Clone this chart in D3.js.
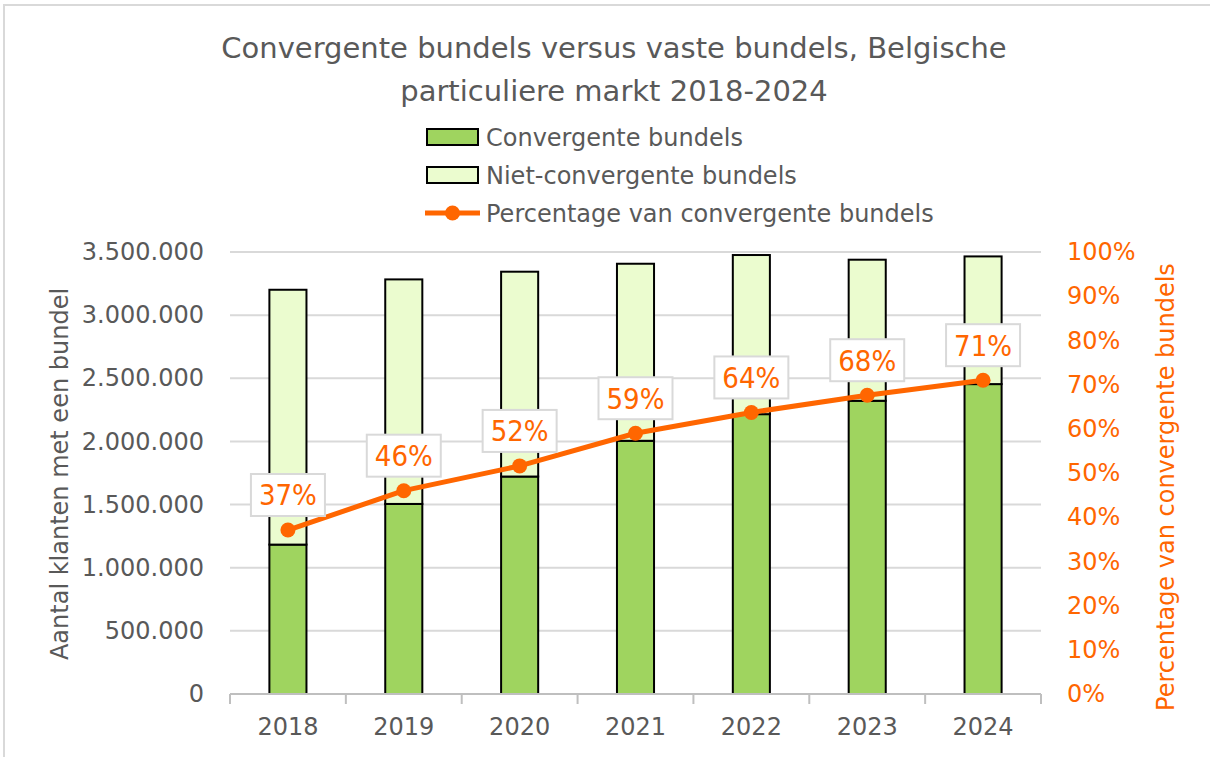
<!DOCTYPE html>
<html>
<head>
<meta charset="utf-8">
<script src="https://cdn.jsdelivr.net/npm/d3@7"></script>
<style>
  body { margin: 0; background: #fff; }
  svg { display: block; font-family: "DejaVu Sans", Verdana, sans-serif; }
</style>
</head>
<body>
<svg></svg>
<script>
const width = 1210;
const height = 757;

// data
const years = ["2018", "2019", "2020", "2021", "2022", "2023", "2024"];
const convergent = [1183000, 1505000, 1722000, 2005000, 2216000, 2322000, 2454000];
const nonConvergent = [2018000, 1778000, 1622000, 1402000, 1260000, 1117000, 1011000];
const percentConvergent = [0.371, 0.460, 0.516, 0.590, 0.637, 0.676, 0.710];
const leftTicks = [0, 500000, 1000000, 1500000, 2000000, 2500000, 3000000, 3500000];
const rightTicks = [0, 0.1, 0.2, 0.3, 0.4, 0.5, 0.6, 0.7, 0.8, 0.9, 1];
const seriesNames = ["Convergente bundels", "Niet-convergente bundels", "Percentage van convergente bundels"];

const textGray = "#595959";
const green = "#9fd45f";
const lightGreen = "#ebfccf";
const orange = "#ff6600";
const gridGray = "#d9d9d9";

const plot = {left: 230, right: 1041, top: 252, bottom: 694};

const svg = d3.select("svg").attr("width", width).attr("height", height);

// chart frame (clipped at right and bottom)
svg.append("rect")
    .attr("x", 4).attr("y", 5)
    .attr("width", 1400).attr("height", 1000)
    .attr("fill", "none")
    .attr("stroke", gridGray)
    .attr("stroke-width", 2);

const x = d3.scaleBand()
    .domain(years)
    .range([plot.left, plot.right])
    .paddingInner(0.68)
    .paddingOuter(0.34);

const y = d3.scaleLinear().domain([0, 3500000]).range([plot.bottom, plot.top]);
const y2 = d3.scaleLinear().domain([0, 1]).range([plot.bottom, plot.top]);

const nl = d3.formatLocale({decimal: ",", thousands: ".", grouping: [3], currency: ["€", ""]});
const fmtNum = nl.format(",.0f");
const fmtPct = d3.format(".0%");

// title
const title = svg.append("text")
    .attr("text-anchor", "middle")
    .attr("fill", textGray)
    .style("font-size", "29px");
title.append("tspan").attr("x", 614).attr("y", 58).text("Convergente bundels versus vaste bundels, Belgische");
title.append("tspan").attr("x", 614).attr("y", 101).text("particuliere markt 2018-2024");

// gridlines
svg.append("g")
    .selectAll("line")
    .data(leftTicks.slice(1))
    .enter().append("line")
    .attr("x1", plot.left).attr("x2", plot.right)
    .attr("y1", d => y(d)).attr("y2", d => y(d))
    .attr("stroke", gridGray)
    .attr("stroke-width", 2);

// left axis
const leftAxis = svg.append("g")
    .attr("transform", `translate(${plot.left - 26},0)`)
    .call(d3.axisLeft(y).tickValues(leftTicks).tickFormat(fmtNum).tickSize(0).tickPadding(0));
leftAxis.select(".domain").remove();
leftAxis.selectAll("text")
    .attr("fill", textGray)
    .style("font-size", "24px")
    .style("font-family", "DejaVu Sans");

// right axis
const rightAxis = svg.append("g")
    .attr("transform", `translate(${plot.right + 26},0)`)
    .call(d3.axisRight(y2).tickValues(rightTicks).tickFormat(fmtPct).tickSize(0).tickPadding(0));
rightAxis.select(".domain").remove();
rightAxis.selectAll("text")
    .attr("fill", orange)
    .style("font-size", "24px")
    .style("font-family", "DejaVu Sans");

// stacked bars
const stacked = years.map((yr, i) => ({year: yr, conv: convergent[i], non: nonConvergent[i]}));
const series = d3.stack().keys(["conv", "non"])(stacked);
const fills = [green, lightGreen];

svg.append("g")
    .selectAll("g")
    .data(series)
    .enter().append("g")
    .attr("fill", (d, i) => fills[i])
    .selectAll("rect")
    .data(d => d)
    .enter().append("rect")
    .attr("x", d => x(d.data.year))
    .attr("y", d => y(d[1]))
    .attr("width", x.bandwidth())
    .attr("height", d => y(d[0]) - y(d[1]))
    .attr("stroke", "#000")
    .attr("stroke-width", 2);

// x axis
const xAxis = svg.append("g")
    .attr("transform", `translate(0,${plot.bottom})`)
    .call(d3.axisBottom(x).tickSize(0).tickPadding(24));
xAxis.select(".domain").remove();
xAxis.selectAll("text")
    .attr("fill", textGray)
    .style("font-size", "24px")
    .style("font-family", "DejaVu Sans");

const step = x.step();
const boundaries = d3.range(years.length + 1).map(i => plot.left + i * step);
svg.append("line")
    .attr("x1", plot.left).attr("x2", plot.right)
    .attr("y1", plot.bottom).attr("y2", plot.bottom)
    .attr("stroke", "#bfbfbf").attr("stroke-width", 2);
svg.append("g")
    .selectAll("line")
    .data(boundaries)
    .enter().append("line")
    .attr("x1", d => d).attr("x2", d => d)
    .attr("y1", plot.bottom).attr("y2", plot.bottom + 10)
    .attr("stroke", "#bfbfbf").attr("stroke-width", 2);

// percentage line
const cx = d => x(d) + x.bandwidth() / 2;
const line = d3.line()
    .x((d, i) => cx(years[i]))
    .y(d => y2(d));

svg.append("path")
    .datum(percentConvergent)
    .attr("d", line)
    .attr("fill", "none")
    .attr("stroke", orange)
    .attr("stroke-width", 5)
    .attr("stroke-linejoin", "round");

svg.append("g")
    .selectAll("circle")
    .data(percentConvergent)
    .enter().append("circle")
    .attr("cx", (d, i) => cx(years[i]))
    .attr("cy", d => y2(d))
    .attr("r", 7.5)
    .attr("fill", orange);

// data labels
const labels = svg.append("g")
    .selectAll("g")
    .data(percentConvergent)
    .enter().append("g")
    .attr("transform", (d, i) => `translate(${cx(years[i])},${y2(d) - 35})`);
labels.append("rect")
    .attr("x", -37).attr("y", -21)
    .attr("width", 74).attr("height", 42)
    .attr("fill", "#fff")
    .attr("stroke", gridGray)
    .attr("stroke-width", 2);
labels.append("text")
    .attr("text-anchor", "middle")
    .attr("dy", "0.36em")
    .attr("fill", orange)
    .style("font-family", "'DejaVu Sans Condensed', 'DejaVu Sans', sans-serif")
    .style("font-size", "29px")
    .text(d => fmtPct(d));

// axis titles
svg.append("text")
    .attr("transform", "translate(59,474) rotate(-90)")
    .attr("text-anchor", "middle")
    .attr("dy", "0.36em")
    .attr("fill", textGray)
    .style("font-size", "24px")
    .text("Aantal klanten met een bundel");

svg.append("text")
    .attr("transform", "translate(1165,487) rotate(-90)")
    .attr("text-anchor", "middle")
    .attr("dy", "0.36em")
    .attr("fill", orange)
    .style("font-size", "24px")
    .text("Percentage van convergente bundels");

// legend
const legend = svg.append("g");
const rowY = [137, 175, 213];
legend.selectAll("rect")
    .data(fills)
    .enter().append("rect")
    .attr("x", 427).attr("y", (d, i) => rowY[i] - 8)
    .attr("width", 51).attr("height", 16)
    .attr("fill", d => d)
    .attr("stroke", "#000")
    .attr("stroke-width", 2);
legend.append("line")
    .attr("x1", 425).attr("x2", 480)
    .attr("y1", rowY[2]).attr("y2", rowY[2])
    .attr("stroke", orange).attr("stroke-width", 5);
legend.append("circle")
    .attr("cx", 452.5).attr("cy", rowY[2]).attr("r", 7.5)
    .attr("fill", orange);
legend.selectAll("text")
    .data(seriesNames)
    .enter().append("text")
    .attr("x", 486)
    .attr("y", (d, i) => rowY[i])
    .attr("dy", "0.36em")
    .attr("fill", textGray)
    .style("font-size", "24px")
    .text(d => d);
</script>
</body>
</html>
